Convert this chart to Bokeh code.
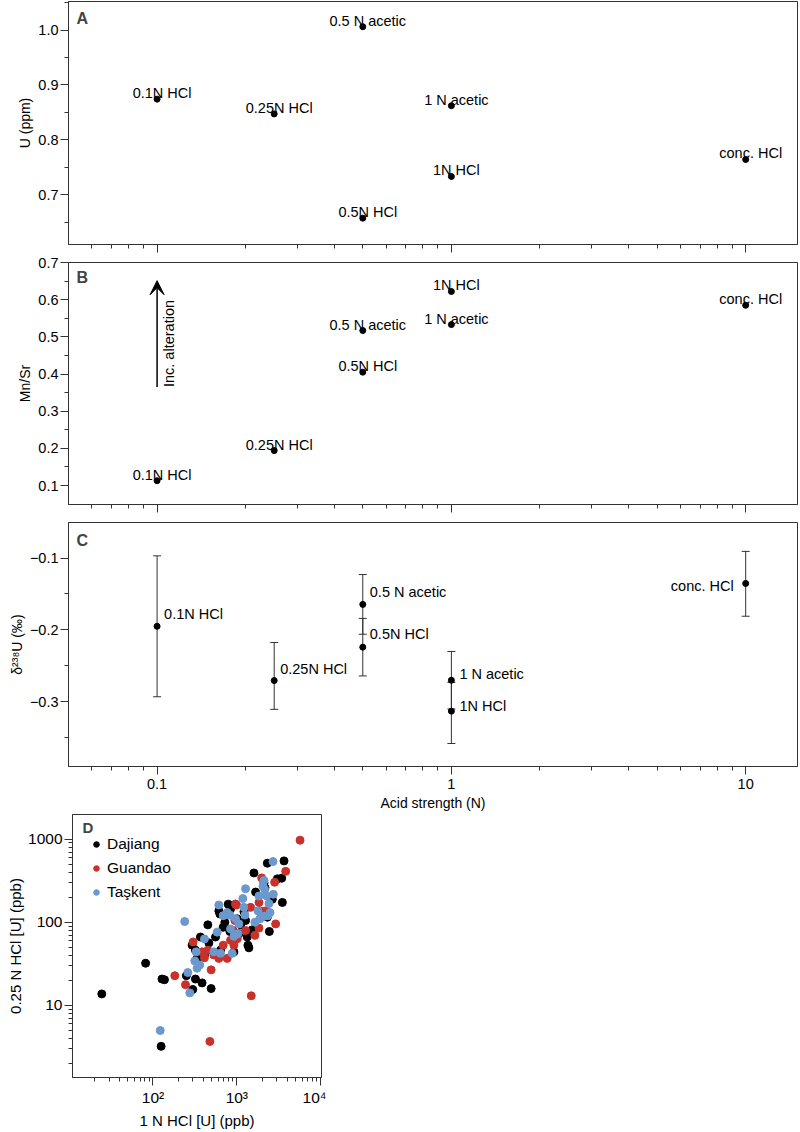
import numpy as np
from bokeh.plotting import figure
from bokeh.models import (ColumnDataSource, FixedTicker, Whisker, TeeHead, Arrow,
                          VeeHead, Label, Range1d, CustomLabelingPolicy, Spacer)
from bokeh.layouts import column, row
from bokeh.embed import file_html
from bokeh.resources import INLINE
from bokeh.core.properties import value

FONT = "Liberation Sans"
LINE = "#333333"

# ---------------- data: panels A-C ----------------
labels = ["0.1N HCl", "0.25N HCl", "0.5 N acetic", "0.5N HCl", "1 N acetic", "1N HCl", "conc. HCl"]
acid_n = [0.1, 0.25, 0.5, 0.5, 1, 1, 10]
u_ppm = [0.874, 0.847, 1.006, 0.657, 0.862, 0.733, 0.764]
mn_sr = [0.113, 0.194, 0.517, 0.405, 0.533, 0.622, 0.585]
d238u = [-0.195, -0.2705, -0.1645, -0.224, -0.270, -0.313, -0.1354]
d238u_err_hi = [0.098, 0.053, 0.0415, 0.040, 0.040, 0.040, 0.0446]
d238u_err_lo = [0.098, 0.040, 0.0415, 0.040, 0.040, 0.045, 0.0456]

# label placement style for panel C (screen px)
c_lab_dx = [7, 6, 7, 7, 8, 8, -12]
c_lab_dy = [-12, -12, -12, -13, -6, -5, 3]
c_lab_align = ["left", "left", "left", "left", "left", "left", "right"]

# ---------------- data: panel D ----------------
dajiang_x = [24.5, 81.7, 128, 137, 125, 298, 250, 321, 385, 494, 293, 368, 336, 321, 451, 464, 411,
             610, 627, 720, 687, 789, 557, 638, 826, 923, 1059, 1331, 1356, 1393, 1216, 1109, 1012,
             1271, 1600, 1675, 1528, 2312, 3656, 3043, 3430, 3493, 2443, 2110, 2169, 2650, 2312,
             841, 923, 964]
dajiang_y = [13.7, 32.1, 20.7, 20.3, 3.2, 15.5, 22.7, 20.7, 18.6, 15.9, 52.9, 66.4, 36.7, 46.1, 93,
             56.4, 40.3, 137, 126, 100, 87, 165, 66.4, 46.1, 77.4, 69.5, 72.7, 66.4, 52.9, 49.2, 134,
             93, 110, 105, 392, 231, 81, 514, 548, 333, 339, 173, 77.4, 298, 260, 189, 115, 144, 44,
             165]

guandao_x = [5675, 3828, 2827, 1977, 1837, 2208, 2904, 1837, 1644, 1459, 993, 948, 906, 841, 1012,
             687, 610, 767, 494, 451, 411, 301, 244, 182, 1486, 477, 532, 923, 1271, 385, 1884, 964]
guandao_y = [973, 410, 303, 342, 173, 137, 95.5, 85, 69.5, 151, 161, 105, 79.6, 60.6, 63.4,
             52.9, 36.7, 36.7, 26.7, 46.1, 37.4, 57.9, 17.7, 22.7, 13, 3.67, 40.3, 52.9, 79.6, 44,
             137, 165]

taskent_x = [2700, 2110, 2055, 2148, 2723, 2269, 1837, 2421, 1888, 2355, 2110, 1271, 1180, 1249,
             966, 1059, 826, 687, 610, 583, 923, 1030, 881, 638, 532, 327, 315, 361, 336, 260, 275,
             239, 122, 1644, 1786, 2489, 841, 411, 767, 1213]
taskent_y = [538, 318, 272, 248, 217, 207, 207, 168, 110, 120, 118, 253, 193, 122, 110, 95.5, 122,
             120, 161, 76, 67.6, 72.7, 42.2, 42.2, 44, 44, 34.2, 30.6, 28, 24.8, 14.1, 102, 4.97,
             100, 137, 131, 83, 63, 131, 151]

x_major = [0.1, 1, 10]
x_minor = [0.06, 0.07, 0.08, 0.09, 0.2, 0.3, 0.4, 0.5, 0.6, 0.7, 0.8, 0.9,
           2, 3, 4, 5, 6, 7, 8, 9]

LEFT = 68
FRAME_W = 729
PT_FS = "14.5px"


def style(p, fs="14.5px", title_fs="14px"):
    for ax in p.axis:
        ax.axis_line_color = LINE
        ax.axis_line_width = 1
        ax.major_tick_line_color = LINE
        ax.minor_tick_line_color = LINE
        ax.major_tick_in = 0
        ax.major_tick_out = 8
        ax.minor_tick_in = 0
        ax.minor_tick_out = 4
        ax.major_label_text_font = FONT
        ax.major_label_text_font_size = fs
        ax.major_label_text_color = "black"
        ax.axis_label_text_font = FONT
        ax.axis_label_text_font_size = title_fs
        ax.axis_label_text_font_style = "normal"
        ax.axis_label_text_color = "black"
        ax.major_label_standoff = 2
        ax.axis_label_standoff = 2
    p.xgrid.visible = False
    p.ygrid.visible = False
    p.outline_line_color = LINE
    p.outline_line_width = 1
    p.background_fill_color = "white"
    p.border_fill_color = "white"


def top_fig(height, top, bottom, yr):
    p = figure(width=LEFT + FRAME_W + 2, height=height, x_axis_type="log",
               x_range=Range1d(0.05, 15), y_range=Range1d(*yr),
               min_border_left=LEFT, min_border_right=2, min_border_top=top,
               min_border_bottom=bottom, output_backend="svg", toolbar_location=None)
    style(p)
    p.xaxis.ticker = FixedTicker(ticks=x_major, minor_ticks=x_minor)
    p.xaxis.major_label_overrides = {0.1: "0.1", 1: "1", 10: "10"}
    return p


def no_x_labels(p):
    p.xaxis.major_label_policy = CustomLabelingPolicy(code="return []")
    p.xaxis.major_label_standoff = 0
    p.xaxis.major_label_text_font_size = "1px"


def letter(p, txt, frame_h, dy, dx=8, fs="16px"):
    p.add_layout(Label(x=dx, y=frame_h - dy, x_units="screen", y_units="screen", text=txt,
                       text_font=FONT, text_font_style="bold", text_font_size=fs,
                       text_baseline="top", text_align="left"))


src = ColumnDataSource(dict(n=acid_n, u=u_ppm, m=mn_sr, d=d238u, lab=labels,
                            hi=[v + e for v, e in zip(d238u, d238u_err_hi)],
                            lo=[v - e for v, e in zip(d238u, d238u_err_lo)],
                            dx=c_lab_dx, dy=c_lab_dy, al=c_lab_align))

# ---------------- Panel A ----------------
hA = 246
pA = top_fig(1 + hA + 9, 1, 9, (0.609, 1.052))
no_x_labels(pA)
pA.yaxis.ticker = FixedTicker(ticks=[0.7, 0.8, 0.9, 1.0], minor_ticks=[0.65, 0.75, 0.85, 0.95, 1.05])
pA.yaxis.major_label_overrides = {0.7: "0.7", 0.8: "0.8", 0.9: "0.9", 1: "1.0"}
pA.yaxis.axis_label = "U (ppm)"
pA.scatter("n", "u", source=src, size=6, color="black")
pA.text("n", "u", text="lab", source=src, x_offset=5, y_offset=-6, text_align="center",
        text_baseline="alphabetic", text_font=value(FONT), text_font_size=PT_FS, text_color="black")
letter(pA, "A", hA, 11)

# ---------------- Panel B ----------------
hB = 245
pB = top_fig(6 + hB + 9, 6, 9, (0.049, 0.7))
no_x_labels(pB)
pB.yaxis.ticker = FixedTicker(ticks=[0.1, 0.2, 0.3, 0.4, 0.5, 0.6, 0.7],
                              minor_ticks=[0.15, 0.25, 0.35, 0.45, 0.55, 0.65])
pB.yaxis.axis_label = "Mn/Sr"
pB.scatter("n", "m", source=src, size=6, color="black")
pB.text("n", "m", text="lab", source=src, x_offset=5, y_offset=-6, text_align="center",
        text_baseline="alphabetic", text_font=value(FONT), text_font_size=PT_FS, text_color="black")
pB.add_layout(Arrow(x_start=0.1, y_start=0.365, x_end=0.1, y_end=0.651, line_width=1.5,
                    line_color="black",
                    end=VeeHead(size=14, fill_color="black", line_color="black")))
pB.add_layout(Label(x=0.1, y=0.365, x_offset=4, text="Inc. alteration", angle=90,
                    angle_units="deg", text_align="left", text_baseline="top",
                    text_font=FONT, text_font_size=PT_FS, text_color="black"))
letter(pB, "B", hB, 9)

# ---------------- Panel C ----------------
hC = 245
pC = top_fig(6 + hC + 46, 6, 46, (-0.39, -0.0506))
pC.yaxis.ticker = FixedTicker(ticks=[-0.3, -0.2, -0.1], minor_ticks=[-0.35, -0.25, -0.15])
pC.yaxis.major_label_overrides = {-0.3: "\u22120.3", -0.2: "\u22120.2", -0.1: "\u22120.1"}
pC.yaxis.axis_label = "\u03b4\u00b2\u00b3\u2078U (\u2030)"
pC.xaxis.axis_label = "Acid strength (N)"
pC.xaxis.axis_label_standoff = 3
pC.xaxis.major_label_standoff = 4
wh = Whisker(source=src, base="n", upper="hi", lower="lo", dimension="height",
             line_color=LINE, line_width=1, level="underlay",
             upper_head=TeeHead(size=8, line_color=LINE, line_width=1),
             lower_head=TeeHead(size=8, line_color=LINE, line_width=1))
pC.add_layout(wh)
pC.scatter("n", "d", source=src, size=6, color="black")
pC.text("n", "d", text="lab", source=src, x_offset="dx", y_offset="dy", text_align="al",
        text_baseline="middle", text_font=value(FONT), text_font_size=PT_FS, text_color="black")
letter(pC, "C", hC, 10)

# ---------------- Panel D ----------------
hD = 267
pD = figure(width=LEFT + 249 + 5, height=1 + hD + 50, x_axis_type="log", y_axis_type="log",
            x_range=Range1d(10.96, 10233), y_range=Range1d(1.35, 1983),
            min_border_left=LEFT, min_border_right=5, min_border_top=1, min_border_bottom=50,
            output_backend="svg", toolbar_location=None)
style(pD, "15.5px", "15px")
pD.xaxis.axis_label_standoff = 3
pD.xaxis.major_label_standoff = 3
pD.yaxis.axis_label_standoff = 1
pD.yaxis.major_label_standoff = 2
pD.xaxis.ticker = FixedTicker(ticks=[100, 1000, 10000],
                              minor_ticks=[20, 30, 40, 50, 60, 70, 80, 90, 200, 300, 400, 500, 600,
                                           700, 800, 900, 2000, 3000, 4000, 5000, 6000, 7000, 8000,
                                           9000])
pD.xaxis.major_label_overrides = {100: "10\u00b2", 1000: "10\u00b3", 10000: "10\u2074"}
pD.yaxis.ticker = FixedTicker(ticks=[10, 100, 1000],
                              minor_ticks=[2, 3, 4, 5, 6, 7, 8, 9, 20, 30, 40, 50, 60, 70, 80, 90,
                                           200, 300, 400, 500, 600, 700, 800, 900])
pD.yaxis.major_label_overrides = {10: "10", 100: "100", 1000: "1000"}
pD.xaxis.axis_label = "1 N HCl [U] (ppb)"
pD.yaxis.axis_label = "0.25 N HCl [U] (ppb)"

pD.scatter(dajiang_x, dajiang_y, size=8, color="black", legend_label="Dajiang")
pD.scatter(guandao_x, guandao_y, size=8, color="#c8322a", legend_label="Guandao")
pD.scatter(taskent_x, taskent_y, size=8, color="#6b98cd", legend_label="Ta\u015fkent")
lg = pD.legend[0]
lg.location = (17, 175)
lg.padding = 0
lg.margin = 0
lg.spacing = 4
lg.label_height = 20
lg.glyph_height = 20
lg.glyph_width = 14
lg.label_standoff = 4
lg.border_line_color = None
lg.background_fill_alpha = 0
lg.label_text_font = FONT
lg.label_text_font_size = "15.5px"
lg.label_text_color = "black"
letter(pD, "D", hD, 8, dx=10, fs="15px")

layout = column(pA, pB, pC, row(Spacer(width=4, height=1 + hD + 50), pD, spacing=0), spacing=0)
open("out.html", "w").write(file_html(layout, INLINE))
